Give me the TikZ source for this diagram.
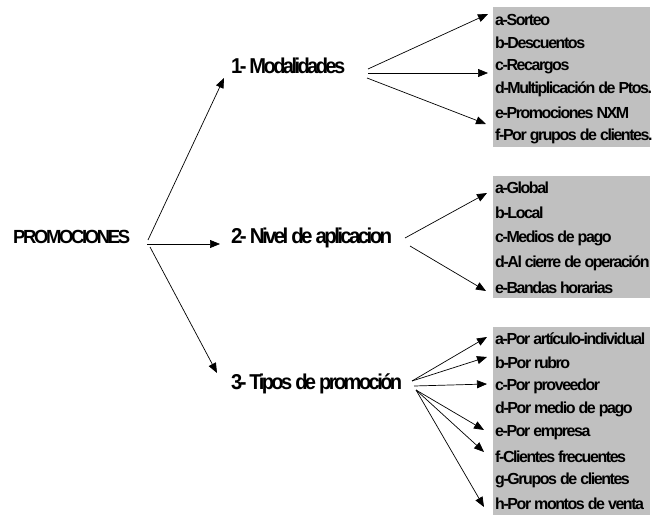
\documentclass[tikz,border=0pt]{standalone}
\usepackage{fontspec}
\setmainfont{Liberation Sans}[LetterSpace=-9]
\newfontfamily\headfont{Liberation Sans}[LetterSpace=-13]
\usetikzlibrary{arrows.meta}
\definecolor{boxgrey}{RGB}{192,192,192}
\newcommand{\fitw}[2]{\resizebox{#1}{\height}{#2}}
\begin{document}
\begin{tikzpicture}[x=1pt,y=-1pt,
  item/.style={anchor=west,inner sep=0pt,font=\bfseries\fontsize{16}{16}\selectfont},
  head/.style={anchor=west,inner sep=0pt,font=\headfont\bfseries\fontsize{21.5}{21.5}\selectfont},
  rootlabel/.style={anchor=west,inner sep=0pt,font=\headfont\bfseries\fontsize{19}{19}\selectfont},
  arr/.style={-{Triangle[length=10pt,width=8pt]},line width=0.7pt},
  greybox/.style={fill=boxgrey,draw=none}]
\useasboundingbox (0,0) rectangle (652,518);
% grey boxes
\fill[greybox] (493,7) rectangle (650,147);
\fill[greybox] (493,176) rectangle (650,298);
\fill[greybox] (493,327) rectangle (650,515);
% main labels
\node[rootlabel] (root) at (13,237) {\fitw{117pt}{PROMOCIONES}};
\node[head] (m1) at (231,66) {\fitw{114pt}{1- Modalidades}};
\node[head] (m2) at (231,237.5) {\fitw{161pt}{2- Nivel de aplicacion}};
\node[head] (m3) at (231,383.5) {\fitw{171pt}{3- Tipos de promoción}};
% items 1
\node[item] (a1) at (495,20) {a-Sorteo};
\node[item] (b1) at (495,43) {b-Descuentos};
\node[item] (c1) at (495,66.4) {c-Recargos};
\node[item] (d1) at (495,89.6) {d-Multiplicación de Ptos.};
\node[item] (e1) at (495,112.8) {e-Promociones NXM};
\node[item] (f1) at (495,136) {f-Por grupos de clientes.};
% items 2
\node[item] (a2) at (495,188) {a-Global};
\node[item] (b2) at (495,213) {b-Local};
\node[item] (c2) at (495,238) {c-Medios de pago};
\node[item] (d2) at (495,263) {d-Al cierre de operación};
\node[item] (e2) at (495,288) {e-Bandas horarias};
% items 3
\node[item] (a3) at (495,339) {a-Por artículo-individual};
\node[item] (b3) at (495,362.5) {b-Por rubro};
\node[item] (c3) at (495,386) {c-Por proveedor};
\node[item] (d3) at (495,409.5) {d-Por medio de pago};
\node[item] (e3) at (495,433) {e-Por empresa};
\node[item] (f3) at (495,456.5) {f-Clientes frecuentes};
\node[item] (g3) at (495,480) {g-Grupos de clientes};
\node[item] (h3) at (495,503.5) {h-Por montos de venta};
% hubs
\coordinate (p0a) at (148,240);
\coordinate (p0b) at (147,244);
\coordinate (p0c) at (150,247);
\coordinate (p1a) at (368,69);
\coordinate (p1b) at (368,73);
\coordinate (p1c) at (367,78);
\coordinate (p2a) at (405,238);
\coordinate (p2b) at (410,246);
\coordinate (p3a) at (412,381);
\coordinate (p3b) at (414,386);
\coordinate (p3c) at (416,390);
% connectors
\draw[arr] (p0a) -- ([xshift=-7pt,yshift=-12pt]m1.west);
\draw[arr] (p0b) -- ([xshift=-11pt,yshift=-6.5pt]m2.west);
\draw[arr] (p0c) -- ([xshift=-14pt,yshift=10.5pt]m3.west);
\draw[arr] (p1a) -- ([xshift=-7pt,yshift=6pt]a1.west);
\draw[arr] (p1b) -- ([xshift=-7pt,yshift=-6.6pt]c1.west);
\draw[arr] (p1c) -- ([xshift=-9pt,yshift=12pt]f1.west);
\draw[arr] (p2a) -- ([xshift=-8pt,yshift=-5pt]a2.west);
\draw[arr] (p2b) -- ([xshift=-9pt,yshift=-3pt]e2.west);
\draw[arr] (p3a) -- ([xshift=-8pt,yshift=2pt]a3.west);
\draw[arr] (p3a) -- ([xshift=-8pt,yshift=5.5pt]b3.west);
\draw[arr] (p3b) -- ([xshift=-8pt,yshift=2pt]c3.west);
\draw[arr] (p3c) -- ([xshift=-11pt,yshift=3pt]e3.west);
\draw[arr] (p3c) -- ([xshift=-11pt,yshift=4.5pt]f3.west);
\draw[arr] (p3c) -- ([xshift=-11pt,yshift=-3.5pt]h3.west);
\end{tikzpicture}
\end{document}
